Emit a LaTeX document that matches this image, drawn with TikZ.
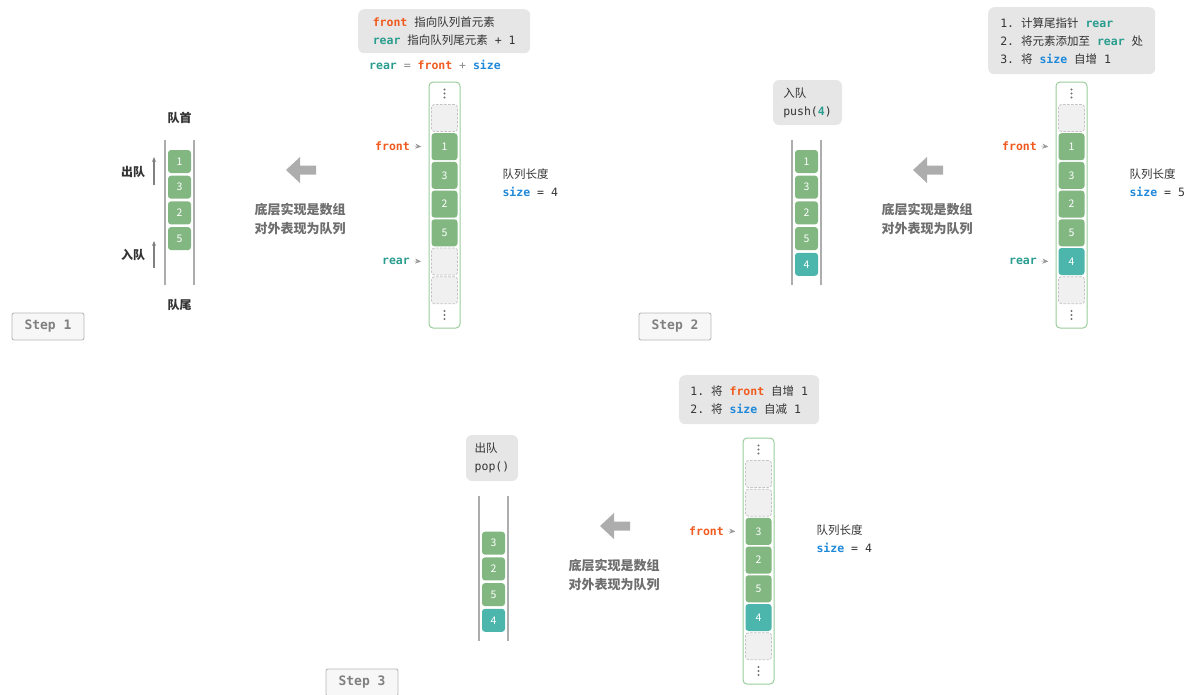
\documentclass[tikz,border=0pt]{standalone}
\usepackage{fontspec}
\setmainfont{Noto Sans CJK SC}
\setmonofont{DejaVu Sans Mono}
\usetikzlibrary{arrows.meta}

\definecolor{cgreen}{HTML}{82B782}
\definecolor{cteal}{HTML}{4DB6AC}
\definecolor{cempty}{HTML}{F0F0F0}
\definecolor{cdash}{HTML}{C4C4C4}
\definecolor{cframe}{HTML}{9ACD9B}
\definecolor{cnote}{HTML}{E6E6E6}
\definecolor{cfront}{HTML}{F05A1E}
\definecolor{crear}{HTML}{2A9D8F}
\definecolor{csize}{HTML}{1E88D9}
\definecolor{ctext}{HTML}{333333}
\definecolor{cgray}{HTML}{ADADAD}
\definecolor{cimpl}{HTML}{6E6E6E}

\newcommand{\msp}{\texttt{\ }}
\newcommand{\kwfront}{\textcolor{cfront}{\ttfamily\bfseries front}}
\newcommand{\kwrear}{\textcolor{crear}{\ttfamily\bfseries rear}}
\newcommand{\kwsize}{\textcolor{csize}{\ttfamily\bfseries size}}

\tikzset{
  cell/.style={rectangle, rounded corners=3pt, fill=cgreen, text=white,
    minimum width=26pt, minimum height=27pt, inner sep=0pt,
    font=\fontsize{10.5}{12}\selectfont},
  tcell/.style={cell, fill=cteal},
  ecell/.style={cell, fill=cempty, draw=cdash, line width=0.8pt,
    dash pattern=on 2.5pt off 1.5pt},
  qcell/.style={cell, minimum width=23pt, minimum height=23pt},
  tqcell/.style={qcell, fill=cteal},
  frame/.style={draw=cframe, line width=1pt, fill=white, rounded corners=4pt},
  qline/.style={draw=cgray, line width=1.2pt},
  uparr/.style={draw=black!50, line width=1.1pt, -{Stealth[length=5pt,width=4pt]}},
  ptr/.style={draw=black!40, -{Stealth[length=6pt,width=5pt]}},
  ptrlbl/.style={anchor=east, inner sep=0pt, font=\fontsize{11.5}{14}\ttfamily\bfseries},
  bold/.style={font=\fontsize{12}{14}\selectfont\bfseries, text=ctext},
  impl/.style={font=\fontsize{13}{19}\selectfont\bfseries, text=cimpl, align=center},
  note/.style={fill=cnote, rounded corners=6pt, align=left, text=ctext},
  stepbox/.style={draw=black!28, line width=0.9pt, fill=black!3, rounded corners=2pt,
    minimum width=72pt, minimum height=27pt, text=black!50,
    font=\fontsize{13}{15}\ttfamily\bfseries},
}

\begin{document}
\begin{tikzpicture}[x=1pt, y=-1pt, font=\fontsize{11.5}{18}\selectfont]
  \useasboundingbox (0,0) rectangle (1186,694);
  % parts that the three steps share
  \foreach \p/\dx/\dy/\n in {1/0/0/4, 2/627/0/5, 3/314/356/4} {
    \begin{scope}[shift={(\dx,\dy)}]
      \node[stepbox] (step\p) at (48,326.5) {Step \p};
      \fill[cgray] (286,170) -- (300,157) -- (300,165.5) -- (316,165.5)
        -- (316,174.5) -- (300,174.5) -- (300,183) -- cycle;
      \node[impl] (impl\p) at (300,219.5) {底层实现是数组\\对外表现为队列};
      \draw[qline] (165,140) -- (165,285);
      \draw[qline] (194,140) -- (194,285);
      \draw[frame] (429,82) rectangle (460,328);
      \foreach \y in {93.5,315}
        \foreach \d in {-4,0,4} \fill[black!55] (444.5,\y+\d) circle (1.1pt);
      \node[anchor=west, align=left, text=ctext] (len\p) at (499,183)
        {队列长度\\\kwsize\texttt{ = \n}};
    \end{scope}
  }
  % step 1
  \foreach \v [count=\i from 0] in {1,3,2,5}
    \node[qcell] (q1\i) at (179.5,{161.5+25.7*\i}) {\v};
  \node[bold] (head) at (179.5,118) {队首};
  \node[bold] (tail) at (179.5,305) {队尾};
  \node[bold] (deq) at (133,172) {出队};
  \node[bold] (enq) at (133,255) {入队};
  \coordinate (deqa) at (154,185); \coordinate (deqb) at (154,157);
  \coordinate (enqa) at (154,268); \coordinate (enqb) at (154,241);
  \draw[uparr] (deqa) -- (deqb);
  \draw[uparr] (enqa) -- (enqb);
  \foreach \v/\s [count=\i from 0] in {{}/ecell,1/cell,3/cell,2/cell,5/cell,{}/ecell,{}/ecell}
    \node[\s] (a1\i) at (444.5,{118+28.7*\i}) {\v};
  \node[ptrlbl, text=cfront] (f1) at (410,146) {front};
  \node[ptrlbl, text=crear] (r1) at (410,261) {rear};
  \draw[ptr] ([xshift=4pt]f1.east) -- ([xshift=-10pt]a11.west);
  \draw[ptr] ([xshift=4pt]r1.east) -- ([xshift=-10pt]a15.west);
  \node[note, minimum width=172pt, minimum height=44pt, anchor=north west] (n1) at (358,9)
    {\kwfront\msp 指向队列首元素\\\kwrear\msp 指向队列尾元素\texttt{ + 1}};
  \node[anchor=west, inner sep=0pt, text=black!45] (eq1) at (369,65)
    {\kwrear\texttt{ = }\kwfront\texttt{ + }\kwsize};
  % step 2
  \begin{scope}[shift={(627,0)}]
    \foreach \v/\s [count=\i from 0] in {1/qcell,3/qcell,2/qcell,5/qcell,4/tqcell}
      \node[\s] (q2\i) at (179.5,{161.5+25.7*\i}) {\v};
    \node[note, minimum width=69pt, minimum height=45pt] (push) at (180.5,102.5)
      {入队\\\texttt{push(\textcolor{crear}{\bfseries 4})}};
    \foreach \v/\s [count=\i from 0] in {{}/ecell,1/cell,3/cell,2/cell,5/cell,4/tcell,{}/ecell}
      \node[\s] (a2\i) at (444.5,{118+28.7*\i}) {\v};
    \node[ptrlbl, text=cfront] (f2) at (410,146) {front};
    \node[ptrlbl, text=crear] (r2) at (410,261) {rear};
    \draw[ptr] ([xshift=4pt]f2.east) -- ([xshift=-10pt]a21.west);
    \draw[ptr] ([xshift=4pt]r2.east) -- ([xshift=-10pt]a25.west);
    \node[note, minimum width=167pt, minimum height=67pt, anchor=north west] (n2) at (361,7)
      {\texttt{1.}\msp 计算尾指针\msp\kwrear\\
       \texttt{2.}\msp 将元素添加至\msp\kwrear\msp 处\\
       \texttt{3.}\msp 将\msp\kwsize\msp 自增\msp\texttt{1}};
  \end{scope}
  % step 3
  \begin{scope}[shift={(314,356)}]
    \foreach \v/\s [count=\i from 1] in {3/qcell,2/qcell,5/qcell,4/tqcell}
      \node[\s] (q3\i) at (179.5,{161.5+25.7*\i}) {\v};
    \node[note, minimum width=52pt, minimum height=46pt] (pop) at (178,102)
      {出队\\\texttt{pop()}};
    \foreach \v/\s [count=\i from 0] in {{}/ecell,{}/ecell,3/cell,2/cell,5/cell,4/tcell,{}/ecell}
      \node[\s] (a3\i) at (444.5,{118+28.7*\i}) {\v};
    \node[ptrlbl, text=cfront] (f3) at (410,175) {front};
    \draw[ptr] ([xshift=4pt]f3.east) -- ([xshift=-10pt]a32.west);
    \node[note, minimum width=140pt, minimum height=49pt, anchor=north west] (n3) at (365,19)
      {\texttt{1.}\msp 将\msp\kwfront\msp 自增\msp\texttt{1}\\
       \texttt{2.}\msp 将\msp\kwsize\msp 自减\msp\texttt{1}};
  \end{scope}
\end{tikzpicture}
\end{document}
